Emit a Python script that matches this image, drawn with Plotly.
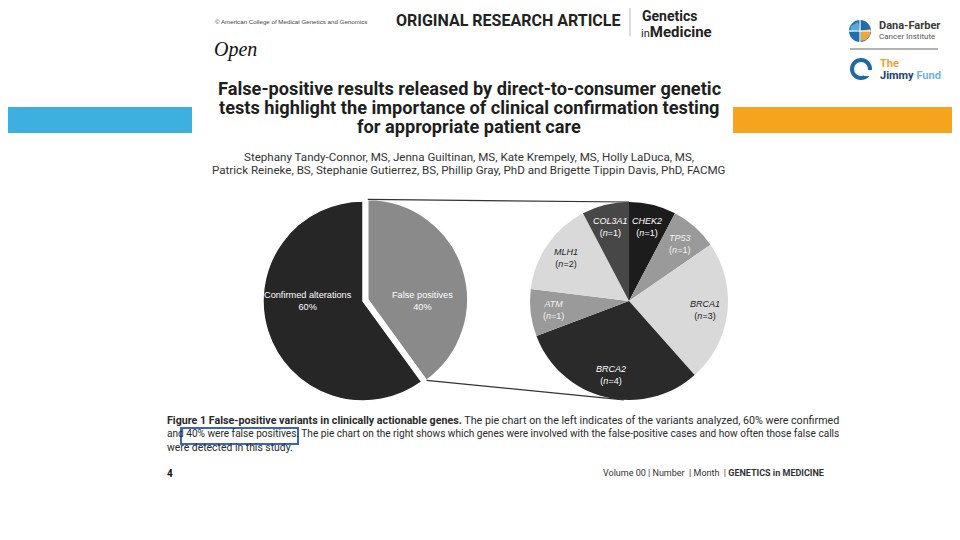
import math
import plotly.graph_objects as go

W, H = 960, 540
OFF = 8  # the page body adds an 8px margin; positions below are in screen pixels

# ---------------- data ----------------
left_labels = ["False positives", "Confirmed alterations"]
left_values = [40, 60]
left_colors = ["#8a8a8a", "#262626"]
left_pull = [0.05, 0]

right_genes = ["CHEK2", "TP53", "BRCA1", "BRCA2", "ATM", "MLH1", "COL3A1"]
right_counts = [1, 1, 3, 4, 1, 2, 1]
right_colors = ["#1c1c1c", "#9a9a9a", "#d9d9d9", "#2a2a2a", "#9a9a9a", "#d9d9d9", "#474747"]
right_text_colors = ["#ffffff", "#f2f2f2", "#222222", "#ffffff", "#f2f2f2", "#222222", "#ffffff"]

title_lines = [
    "False-positive results released by direct-to-consumer genetic",
    "tests highlight the importance of clinical confirmation testing",
    "for appropriate patient care",
]
author_lines = [
    "Stephany Tandy-Connor, MS, Jenna Guiltinan, MS, Kate Krempely, MS, Holly LaDuca, MS,",
    "Patrick Reineke, BS, Stephanie Gutierrez, BS, Phillip Gray, PhD and Brigette Tippin Davis, PhD, FACMG",
]
caption_lines = [
    "<b>Figure 1 False-positive variants in clinically actionable genes.</b> The pie chart on the left indicates of the variants analyzed, 60% were confirmed",
    "and 40% were false positives. The pie chart on the right shows which genes were involved with the false-positive cases and how often those false calls",
    "were detected in this study.",
]
caption_sizes = [10.7, 10.1, 10.4]

# ---------------- geometry helpers ----------------
L_CX, L_CY, L_R = 363, 301, 100
R_CX, R_CY, R_R = 629, 301, 99


def px(x):
    return (x - OFF) / W


def py(y):
    return 1 - (y - OFF) / H


def dom(cx, cy, r, pull):
    half = r * (1 + pull)
    return dict(x=[px(cx - half), px(cx + half)], y=[py(cy + half), py(cy - half)])


def polar(cx, cy, r, deg):
    a = math.radians(deg)
    return cx + r * math.sin(a), cy - r * math.cos(a)


fig = go.Figure()

fig.add_trace(go.Pie(
    labels=left_labels, values=left_values, sort=False, direction="clockwise", rotation=0,
    pull=left_pull, marker=dict(colors=left_colors, line=dict(color="white", width=1.5)),
    textinfo="none", hoverinfo="label+percent", domain=dom(L_CX, L_CY, L_R, max(left_pull)),
))
fig.add_trace(go.Pie(
    labels=right_genes, values=right_counts, sort=False, direction="clockwise", rotation=0,
    marker=dict(colors=right_colors, line=dict(color="white", width=0)),
    textinfo="none", hoverinfo="label+value", domain=dom(R_CX, R_CY, R_R, 0),
))

ann = []
shapes = []

# left pie labels
ltot = sum(left_values)
cum = 0
for lab, v, p in zip(left_labels, left_values, left_pull):
    mid = (cum + v / 2) / ltot * 360
    ox, oy = polar(0, 0, p * L_R, mid)
    x, _ = polar(L_CX + ox, L_CY + oy, 0.58 * L_R, mid)
    ann.append(dict(x=px(x), y=py(L_CY), text=f"{lab}<br>{v / ltot * 100:.0f}%", showarrow=False,
                    font=dict(family="Liberation Sans, Arial", size=9.2, color="white"),
                    xanchor="center", yanchor="middle"))
    cum += v

# connectors from the pulled slice to the right pie
g_mid = left_values[0] / ltot * 180
ox, oy = polar(0, 0, left_pull[0] * L_R, g_mid)
t1 = polar(L_CX + ox, L_CY + oy, L_R, 0)
b1 = polar(L_CX + ox, L_CY + oy, L_R, left_values[0] / ltot * 360)
t2 = polar(R_CX, R_CY, R_R, 0)
b2 = polar(R_CX, R_CY, R_R, 183)
for a, b in [(t1, t2), (b1, b2)]:
    shapes.append(dict(type="line", xref="paper", yref="paper", x0=px(a[0]), y0=py(a[1]),
                       x1=px(b[0]), y1=py(b[1]), line=dict(color="#333333", width=1.2)))

# right pie labels
rtot = sum(right_counts)
cum = 0
for g, c, tc in zip(right_genes, right_counts, right_text_colors):
    mid = (cum + c / 2) / rtot * 360
    x, y = polar(R_CX, R_CY, 0.77 * R_R, mid)
    ann.append(dict(x=px(x), y=py(y), text=f"<i>{g}</i><br>(<i>n</i>={c})", showarrow=False,
                    font=dict(family="Liberation Sans, Arial", size=9, color=tc),
                    xanchor="center", yanchor="middle"))
    cum += c

# ---------------- page decorations ----------------
shapes.append(dict(type="rect", xref="paper", yref="paper", x0=px(0), x1=px(192), y0=py(133), y1=py(107),
                   fillcolor="#3db0e0", line=dict(width=0), layer="below"))
shapes.append(dict(type="rect", xref="paper", yref="paper", x0=px(733), x1=1, y0=py(133), y1=py(107),
                   fillcolor="#f6a31e", line=dict(width=0), layer="below"))
shapes.append(dict(type="line", xref="paper", yref="paper", x0=px(630), x1=px(630), y0=py(36), y1=1,
                   line=dict(color="#bbbbbb", width=1)))
# highlight box
shapes.append(dict(type="rect", xref="paper", yref="paper", x0=px(181), x1=px(298), y0=py(444), y1=py(428),
                   line=dict(color="#3a68b0", width=2), fillcolor="rgba(0,0,0,0)"))
# Dana-Farber logo
shapes.append(dict(type="circle", xref="paper", yref="paper", x0=px(849), x1=px(871), y0=py(42), y1=py(20),
                   fillcolor="#1f6fae", line=dict(width=0)))
shapes.append(dict(type="path", xref="paper", yref="paper",
                   path=f"M {px(861)},{py(31)} L {px(870.5)},{py(29)} L {px(870)},{py(35)} L {px(866)},{py(40)} L {px(861)},{py(41)} Z",
                   fillcolor="#f2a33a", line=dict(width=0)))
shapes.append(dict(type="path", xref="paper", yref="paper",
                   path=f"M {px(851)},{py(26)} L {px(858)},{py(22)} L {px(860)},{py(30)} L {px(850)},{py(32)} Z",
                   fillcolor="#5ba9d6", line=dict(width=0)))
shapes.append(dict(type="line", xref="paper", yref="paper", x0=px(860), x1=px(860), y0=py(42), y1=py(20),
                   line=dict(color="white", width=1.2)))
shapes.append(dict(type="line", xref="paper", yref="paper", x0=px(849), x1=px(871), y0=py(31), y1=py(31),
                   line=dict(color="white", width=1.2)))
shapes.append(dict(type="line", xref="paper", yref="paper", x0=px(850), x1=px(938), y0=py(49), y1=py(49),
                   line=dict(color="#9a9a9a", width=1.5)))
# Jimmy Fund icon
shapes.append(dict(type="circle", xref="paper", yref="paper", x0=px(852), x1=px(870), y0=py(78), y1=py(60),
                   fillcolor="rgba(0,0,0,0)", line=dict(color="#1d6aa5", width=4)))
shapes.append(dict(type="rect", xref="paper", yref="paper", x0=px(864), x1=px(873), y0=py(76), y1=py(70),
                   fillcolor="white", line=dict(width=0)))


def txt(x, y, s, size, color="#222222", family="Roboto", xanchor="left", bold=False, italic=False):
    if bold:
        s = f"<b>{s}</b>"
    if italic:
        s = f"<i>{s}</i>"
    ann.append(dict(x=px(x), y=py(y), text=s, showarrow=False, xanchor=xanchor, yanchor="middle",
                    font=dict(family=family, size=size, color=color)))


txt(213, 22, "© American College of Medical Genetics and Genomics", 6.2, "#444444", "Liberation Sans")
txt(394, 20, "ORIGINAL RESEARCH ARTICLE", 16, "#222222", "Roboto", bold=True)
txt(640, 16.5, "Genetics", 14, "#222222", "Roboto", bold=True)
ann.append(dict(x=px(639), y=py(32), text="<span style='font-size:11px'>in</span><b>Medicine</b>",
                showarrow=False, xanchor="left", yanchor="middle",
                font=dict(family="Roboto", size=15, color="#222222")))
txt(212, 50, "Open", 20, "#111111", "Liberation Serif", italic=True)

for i, line in enumerate(title_lines):
    txt(469, 88 + i * 19.5, line, 18.2, "#1e1e1e", "Roboto", xanchor="center", bold=True)
for i, line in enumerate(author_lines):
    txt(469, 157 + i * 13, line, 11.6, "#333333", "Roboto", xanchor="center")
for i, (line, s) in enumerate(zip(caption_lines, caption_sizes)):
    txt(165, 420 + i * 13.5, line, s, "#2a2a2a", "Roboto")

txt(165, 473, "4", 10, "#111111", "Roboto", bold=True)
txt(826, 473, "Volume 00 | Number  | Month  | <b>GENETICS in MEDICINE</b>", 9, "#333333", "Roboto",
    xanchor="right")

# logo texts
txt(877, 26, "Dana-Farber", 11, "#3a3a3a", "Roboto", bold=True)
txt(877, 37, "Cancer Institute", 8, "#555555", "Roboto")
txt(878, 63, "The", 11, "#f0a030", "Roboto", bold=True)
ann.append(dict(x=px(878), y=py(75), text="<b><span style='color:#1d3f6e'>Jimmy</span> <span style='color:#6db4e0'>Fund</span></b>",
                showarrow=False, xanchor="left", yanchor="middle", font=dict(family="Roboto", size=11)))

fig.update_layout(
    width=W, height=H, margin=dict(l=0, r=0, t=0, b=0),
    paper_bgcolor="white", plot_bgcolor="white", showlegend=False,
    annotations=ann, shapes=shapes,
)

fig.write_html("out.html")
